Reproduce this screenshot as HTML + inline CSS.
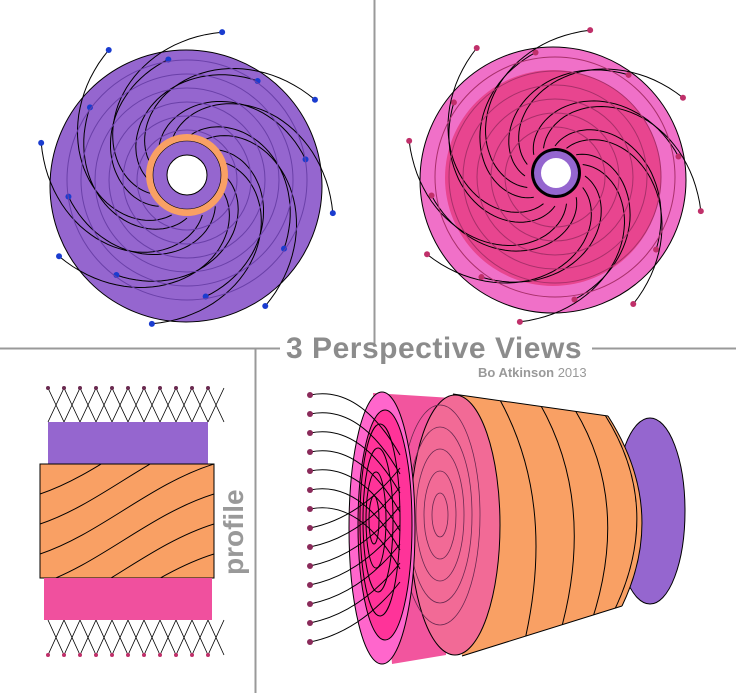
<!DOCTYPE html>
<html><head><meta charset="utf-8"><style>
html,body{margin:0;padding:0;background:#fff;}
svg{display:block}
</style></head><body>
<svg id="s" width="736" height="693" viewBox="0 0 736 693" xmlns="http://www.w3.org/2000/svg">
<defs>
<clipPath id="cpo"><rect x="40" y="464" width="174" height="114"/></clipPath>
<clipPath id="cpor"><path d="M453,394 L608,416 Q668,510 622,606 L462,656 Z"/></clipPath>
</defs>
<line x1="374.5" y1="0" x2="374.5" y2="344" stroke="#999" stroke-width="2"/>
<line x1="0" y1="348.5" x2="280" y2="348.5" stroke="#999" stroke-width="2"/>
<line x1="592" y1="348.5" x2="736" y2="348.5" stroke="#999" stroke-width="2"/>
<line x1="255.5" y1="349" x2="255.5" y2="693" stroke="#999" stroke-width="2"/>
<text x="286" y="358" font-family="'Liberation Sans',sans-serif" font-size="30" fill="#8c8c8c" font-weight="bold" letter-spacing="0.5" textLength="296">3 Perspective Views</text>
<text x="478" y="377" font-family="'Liberation Sans',sans-serif" font-size="13" fill="#999" font-weight="bold">Bo Atkinson <tspan font-weight="normal">2013</tspan></text>
<text transform="translate(243,575) rotate(-90)" font-family="'Liberation Sans',sans-serif" font-size="28" fill="#999" font-weight="bold">profile</text>

<circle cx="186" cy="186" r="136" fill="#9566cf" stroke="#000"/>
<g id="tl" fill="none" stroke="#000" stroke-width="1"></g>
<circle cx="187" cy="175" r="41" fill="#f9a064"/>
<circle cx="187" cy="175" r="34" fill="#9566cf" stroke="#000" stroke-width="0.6"/>
<circle cx="187" cy="175" r="20" fill="#fff" stroke="#000"/>

<circle cx="553" cy="180" r="133" fill="#f070c8" stroke="#000"/>
<circle cx="553" cy="178" r="108" fill="#e8458f"/>
<g id="tr" fill="none" stroke="#000"></g>
<circle cx="556" cy="173" r="25" fill="#000"/>
<circle cx="556" cy="173" r="22" fill="#9566cf"/>
<circle cx="556" cy="173" r="15" fill="#fff"/>

<g id="bl" fill="none" stroke="#000" stroke-width="0.8"></g>
<rect x="48" y="422" width="160" height="42" fill="#9566cf"/>
<rect x="40" y="464" width="174" height="114" fill="#f9a064" stroke="#000"/>
<g id="bls" fill="none" stroke="#000" clip-path="url(#cpo)"></g>
<rect x="44" y="578" width="168" height="42" fill="#f0509e"/>

<ellipse cx="650" cy="511" rx="35" ry="93" fill="#9566cf" stroke="#000"/>
<path d="M453,394 L608,416 Q668,510 622,606 L462,656 Z" fill="#f9a064"/>
<path d="M453,394 L608,416 M608,416 Q668,510 622,606 M462,656 L622,606" stroke="#000" fill="none"/>
<g id="br" fill="none" stroke="#000" clip-path="url(#cpor)"></g>
<polygon points="373,393 452,398 446,655 392,664" fill="#f2559e"/>
<ellipse cx="455" cy="525" rx="45" ry="130" fill="#f26a96" stroke="#000"/>
<g id="br2" fill="none" stroke="#6a2a50" stroke-width="0.8"></g>
<ellipse cx="382" cy="528" rx="33" ry="136" fill="#ff66cc" stroke="#000"/>
<ellipse cx="385" cy="525" rx="27" ry="115" fill="#ff3399" stroke="#000"/>
<g id="br3" fill="none" stroke="#000"></g>
</svg>
<script>
var NS="http://www.w3.org/2000/svg";
function add(g,tag,attrs){var e=document.createElementNS(NS,tag);for(var k in attrs)e.setAttribute(k,attrs[k]);document.getElementById(g).appendChild(e);return e;}
function spiral(g,cx,cy,r0,r1,a0,turn,col,head){
 var d="",n=40,x,y;
 for(var i=0;i<=n;i++){var t=i/n,r=r0+(r1-r0)*t,a=a0+turn*t;x=cx+r*Math.cos(a);y=cy+r*Math.sin(a);d+=(i?"L":"M")+x.toFixed(1)+","+y.toFixed(1);}
 add(g,"path",{d:d});
 if(head)add(g,"circle",{cx:x,cy:y,r:3,fill:col,stroke:"none"});
}
for(var i=0;i<16;i++){var a=i*Math.PI*2/16;
 spiral("tl",187,178,40,i%2?150:120,a,2.2,"#1a3ccf",true);
 spiral("tr",555,176,30,i%2?150:125,a,2.2,"#c0306a",true);}
for(var r=50;r<130;r+=14){add("tl","circle",{cx:187,cy:180,r:r,stroke:"#6a40a8"});add("tr","circle",{cx:555,cy:177,r:r,stroke:"#a8306a"});}
for(var i=0;i<11;i++){var x=48+i*16;
 add("bl","path",{d:"M"+x+",388 L"+(x+16)+",422 M"+(x+16)+",388 L"+x+",422"});
 add("bl","path",{d:"M"+x+",620 L"+(x+16)+",655 M"+(x+16)+",620 L"+x+",655"});
 add("bl","circle",{cx:x,cy:388,r:2,fill:"#6a2a50",stroke:"none"});
 add("bl","circle",{cx:x,cy:655,r:2,fill:"#c0306a",stroke:"none"});}
for(var i=-3;i<6;i++){var y=464+i*30;
 add("bls","path",{d:"M40,"+(y+90)+" C100,"+(y+70)+" 150,"+(y+20)+" 214,"+y});}
[[500,400,520,660],[540,404,555,650],[575,410,585,640],[605,415,612,615]].forEach(function(p){
 add("br","path",{d:"M"+p[0]+","+p[1]+" Q"+(p[0]+60)+",510 "+p[2]+","+p[3]});});
for(var k=1;k<6;k++)add("br2","ellipse",{cx:440,cy:515,rx:8*k,ry:22*k});
for(var k=1;k<5;k++)add("br3","ellipse",{cx:372+k*2,cy:520,rx:5*k,ry:24*k});
for(var i=0;i<14;i++){var y=395+i*19;
 add("br3","path",{d:"M310,"+y+" Q360,"+(y-10)+" 400,"+(y+ (i<7?60:-60))});
 add("br3","circle",{cx:310,cy:y,r:3,fill:"#8a2a5a",stroke:"none"});}
</script>
</body></html>
